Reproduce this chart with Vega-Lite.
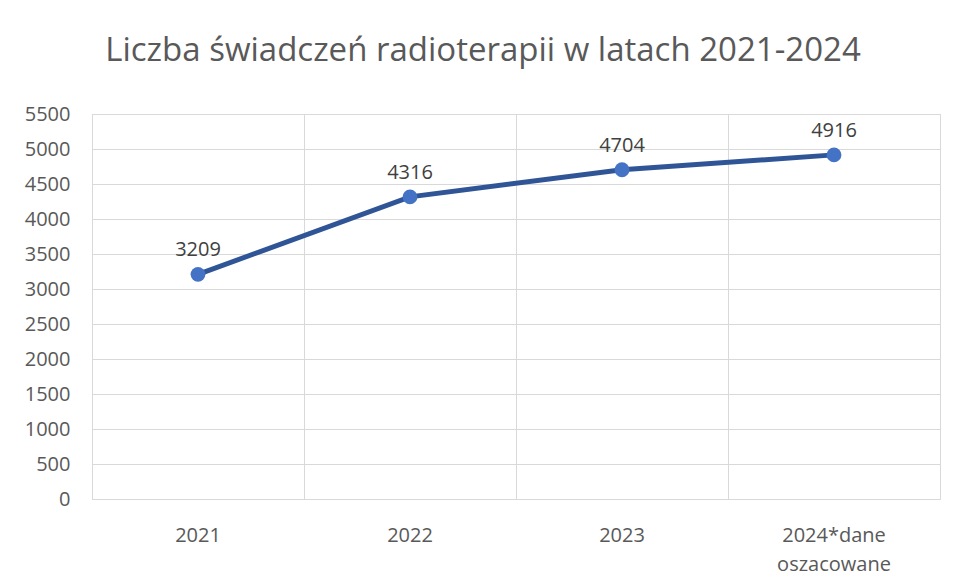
{
  "$schema": "https://vega.github.io/schema/vega-lite/v6.json",
  "autosize": {"type": "none"},
  "width": 848,
  "height": 385,
  "padding": {"left": 92, "top": 114, "right": 13, "bottom": 81},
  "background": "white",
  "config": {
    "font": "Open Sans",
    "view": {"stroke": "#D9D9D9", "strokeWidth": 1}
  },
  "title": {
    "text": "Liczba świadczeń radioterapii w latach 2021-2024",
    "fontSize": 33,
    "font": "Open Sans",
    "fontWeight": "normal",
    "color": "#595959",
    "anchor": "middle",
    "baseline": "alphabetic",
    "dx": -33,
    "offset": 10
  },
  "data": {
    "values": [
      {"rok": "2021", "liczba": 3209},
      {"rok": "2022", "liczba": 4316},
      {"rok": "2023", "liczba": 4704},
      {"rok": "2024*dane oszacowane", "liczba": 4916}
    ]
  },
  "encoding": {
    "x": {
      "field": "rok",
      "type": "nominal",
      "sort": null,
      "scale": {"type": "band", "paddingInner": 0, "paddingOuter": 0},
      "axis": {
        "title": null,
        "labelAngle": 0,
        "bandPosition": 0,
        "grid": true,
        "gridColor": "#D9D9D9",
        "domain": false,
        "ticks": false,
        "labelPadding": 26,
        "labelFontSize": 20,
        "labelColor": "#595959",
        "labelLineHeight": 29,
        "labelBaseline": "top",
        "labelExpr": "datum.value == '2024*dane oszacowane' ? ['2024*dane', 'oszacowane'] : datum.value"
      }
    },
    "y": {
      "field": "liczba",
      "type": "quantitative",
      "scale": {"domain": [0, 5500], "nice": false},
      "axis": {
        "title": null,
        "format": "d",
        "values": [0, 500, 1000, 1500, 2000, 2500, 3000, 3500, 4000, 4500, 5000, 5500],
        "grid": true,
        "gridColor": "#D9D9D9",
        "domain": false,
        "ticks": false,
        "labelPadding": 22,
        "labelFontSize": 20,
        "labelColor": "#595959"
      }
    }
  },
  "layer": [
    {
      "mark": {"type": "line", "color": "#2F5597", "strokeWidth": 5}
    },
    {
      "mark": {"type": "point", "filled": true, "opacity": 1, "color": "#4472C4", "size": 220}
    },
    {
      "mark": {"type": "text", "dy": -24, "fontSize": 20, "color": "#404040", "font": "Open Sans"},
      "encoding": {"text": {"field": "liczba", "type": "quantitative", "format": "d"}}
    }
  ]
}
